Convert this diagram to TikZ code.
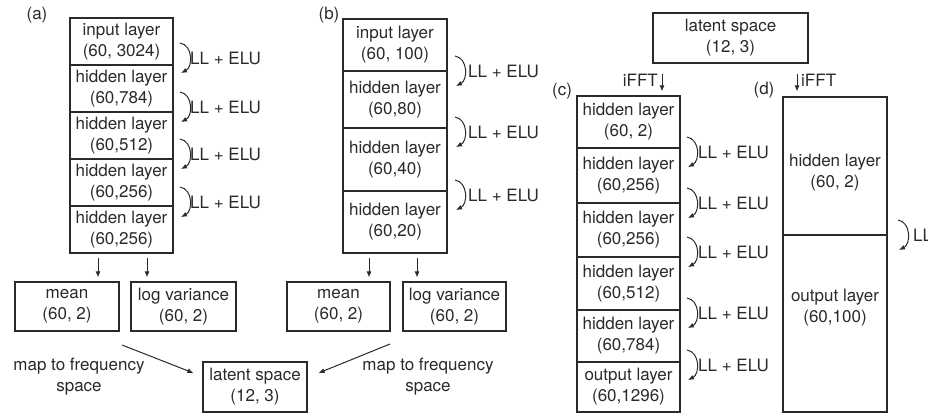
\documentclass[tikz,border=0pt]{standalone}
\usepackage{fontspec}
\setmainfont{TeX Gyre Heros}
\usetikzlibrary{arrows.meta}
\definecolor{ink}{HTML}{2A2A2A}
\tikzset{
  layerbox/.style={draw=ink, line width=1.1pt, inner sep=0pt, align=center, text=ink},
  txt/.style={inner sep=0pt, align=center, text=ink},
  arr/.style={draw=ink, line width=1pt, -{Latex[length=6pt,width=5pt]}},
}
\newcommand\llelu[4]{% arrow x, label x, y, name
  \coordinate (#4s) at (#1,#3-15);
  \coordinate (#4e) at (#1+1,#3+15);
  \draw[arr] (#4s) .. controls (#1+13,#3-13) and (#1+13,#3+9) .. (#4e);
  \node[txt, anchor=west] (#4t) at (#2,#3) {LL + ELU};
}
\begin{document}
\begin{tikzpicture}[x=1pt, y=-1pt, font=\fontsize{17}{21}\selectfont]
\useasboundingbox (0,0) rectangle (928,415);
\clip (0,0) rectangle (928,415);

% ---------- panel (a)
\node[txt] (la) at (37,15) {(a)};
\node[layerbox, minimum width=103pt, minimum height=47pt] (a1) at (121.5,41.5) {input layer\\(60, 3024)};
\node[layerbox, minimum width=103pt, minimum height=47pt] (a2) at (121.5,88.5) {hidden layer\\(60,784)};
\node[layerbox, minimum width=103pt, minimum height=47pt] (a3) at (121.5,135.5) {hidden layer\\(60,512)};
\node[layerbox, minimum width=103pt, minimum height=47pt] (a4) at (121.5,182.5) {hidden layer\\(60,256)};
\node[layerbox, minimum width=103pt, minimum height=47pt] (a5) at (121.5,229.5) {hidden layer\\(60,256)};
\llelu{180}{190}{58}{aa1}
\llelu{180}{190}{107}{aa2}
\llelu{180}{190}{154}{aa3}
\llelu{180}{190}{202}{aa4}

\node[layerbox, minimum width=104pt, minimum height=49pt] (meanA) at (67,306.5) {mean\\(60, 2)};
\node[layerbox, minimum width=105pt, minimum height=49pt] (varA) at (183.5,306.5) {log variance\\(60, 2)};
\coordinate (xa1) at (98,0);
\coordinate (xa2) at (147,0);
\draw[arr, shorten <=4pt, shorten >=4pt] (a5.south -| xa1) -- (meanA.north -| xa1);
\draw[arr, shorten <=4pt, shorten >=4pt] (a5.south -| xa2) -- (varA.north -| xa2);

% ---------- panel (b)
\node[txt] (lb) at (329,15) {(b)};
\node[layerbox, minimum width=104pt, minimum height=52pt] (b1) at (395,45) {input layer\\(60, 100)};
\node[layerbox, minimum width=104pt, minimum height=57pt] (b2) at (395,99.5) {hidden layer\\(60,80)};
\node[layerbox, minimum width=104pt, minimum height=63pt] (b3) at (395,159.5) {hidden layer\\(60,40)};
\node[layerbox, minimum width=104pt, minimum height=62pt] (b4) at (395,222) {hidden layer\\(60,20)};
\llelu{455}{468}{71}{bb1}
\llelu{455}{468}{132}{bb2}
\llelu{455}{468}{195}{bb3}

\node[layerbox, minimum width=103pt, minimum height=49pt] (meanB) at (338.5,306.5) {mean\\(60, 2)};
\node[layerbox, minimum width=103pt, minimum height=49pt] (varB) at (454.5,306.5) {log variance\\(60, 2)};
\coordinate (xb1) at (369,0);
\coordinate (xb2) at (417,0);
\draw[arr, shorten <=4pt, shorten >=4pt] (b4.south -| xb1) -- (meanB.north -| xb1);
\draw[arr, shorten <=4pt, shorten >=4pt] (b4.south -| xb2) -- (varB.north -| xb2);

% ---------- bottom latent space
\node[layerbox, minimum width=104pt, minimum height=50pt] (latB) at (255,387) {latent space\\(12, 3)};
\coordinate (mapA) at (122,345);
\coordinate (mapB) at (390,344);
\draw[arr] (mapA) -- ([xshift=-9pt,yshift=14pt]latB.west);
\draw[arr] (mapB) -- ([xshift=11pt,yshift=14pt]latB.east);
\node[txt] (mtA) at (79,377) {map to frequency\\space};
\node[txt] (mtB) at (428,377) {map to frequency\\space};

% ---------- top latent space
\node[layerbox, minimum width=155pt, minimum height=50pt] (latT) at (730.5,38) {latent space\\(12, 3)};

% ---------- panel (c)
\node[txt] (lc) at (562,91) {(c)};
\node[layerbox, minimum width=103pt, minimum height=52pt] (c1) at (628.5,122) {hidden layer\\(60, 2)};
\node[layerbox, minimum width=103pt, minimum height=55pt] (c2) at (628.5,175.5) {hidden layer\\(60,256)};
\node[layerbox, minimum width=103pt, minimum height=54pt] (c3) at (628.5,230) {hidden layer\\(60,256)};
\node[layerbox, minimum width=103pt, minimum height=53pt] (c4) at (628.5,283.5) {hidden layer\\(60,512)};
\node[layerbox, minimum width=103pt, minimum height=52pt] (c5) at (628.5,336) {hidden layer\\(60,784)};
\node[layerbox, minimum width=103pt, minimum height=50pt] (c6) at (628.5,387) {output layer\\(60,1296)};
\llelu{687}{698}{152}{cc1}
\llelu{687}{698}{203}{cc2}
\llelu{687}{698}{252}{cc3}
\llelu{687}{698}{313}{cc4}
\llelu{687}{698}{365}{cc5}

\coordinate (xc) at (662,0);
\draw[arr, shorten <=10pt, shorten >=4pt] (latT.south -| xc) -- (c1.north -| xc);
\node[txt, anchor=east] (ifc) at (658,80) {iFFT};

% ---------- panel (d)
\node[txt] (ld) at (764,90) {(d)};
\node[layerbox, minimum width=104pt, minimum height=138pt] (d1) at (835,166) {};
\node[layerbox, minimum width=104pt, minimum height=177pt] (d2) at (835,323.5) {};
\node[txt] (d1t) at (835,173) {hidden layer\\(60, 2)};
\node[txt] (d2t) at (835,307.5) {output layer\\(60,100)};
\llelu{898}{913}{235}{dd1}

\coordinate (xd) at (797,0);
\draw[arr, shorten <=10pt, shorten >=5pt] (latT.south -| xd) -- (d1.north -| xd);
\node[txt, anchor=west] (ifd) at (801,80) {iFFT};
\end{tikzpicture}
\end{document}
